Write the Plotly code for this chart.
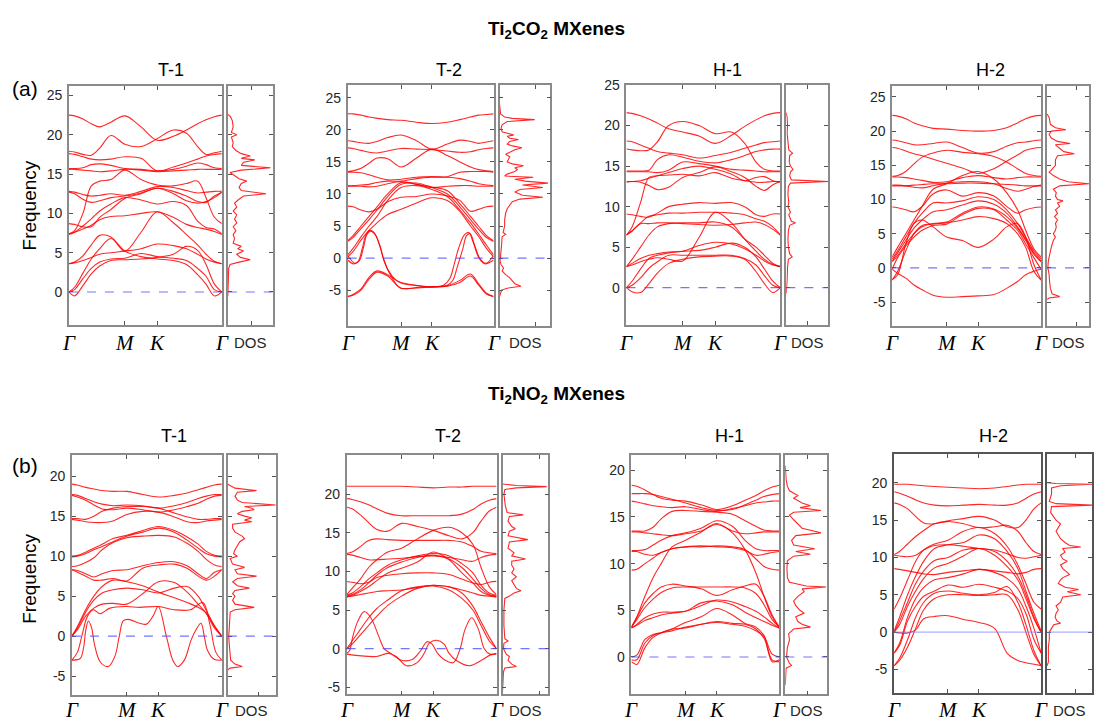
import plotly.graph_objects as go

FIG_W, FIG_H = 1094, 722

# ---------------- k-path ----------------
K_GRID = [0, 0.1, 0.25, 0.4, 0.55, 0.75, 1.0, 1.289, 1.577, 1.866, 2.1, 2.3, 2.45, 2.6, 2.732]
K_END = 2.732
K_TICKS = [0, 1.0, 1.577, 2.732]
K_LABELS = ["Γ", "M", "K", "Γ"]

# ---------------- (a) Ti2CO2 T-1 ----------------
A_T1_BANDS = [
    [22.5, 22.4, 22.0, 21.4, 21.0, 21.6, 22.4, 21.0, 19.3, 19.8, 20.6, 21.4, 21.9, 22.3, 22.5],
    [17.9, 17.8, 17.5, 17.4, 18.3, 19.9, 18.8, 18.5, 19.5, 20.6, 20.2, 18.5, 17.5, 17.7, 17.9],
    [17.6, 17.5, 17.2, 16.9, 16.8, 16.9, 17.2, 17.0, 15.4, 15.9, 16.4, 16.9, 17.3, 17.5, 17.6],
    [15.7, 15.7, 15.8, 16.2, 16.3, 16.1, 15.7, 15.6, 15.4, 15.6, 16.0, 16.4, 16.2, 15.8, 15.7],
    [15.6, 15.6, 15.5, 15.4, 15.3, 15.4, 15.6, 15.5, 15.3, 15.4, 15.5, 15.6, 15.6, 15.6, 15.6],
    [7.4, 7.8, 10.0, 13.5, 14.1, 14.3, 15.5, 14.3, 13.6, 13.5, 13.8, 14.1, 12.0, 9.5, 8.7],
    [12.8, 12.7, 12.4, 12.2, 12.3, 12.5, 12.3, 12.8, 13.4, 13.3, 12.9, 12.6, 12.7, 12.8, 12.8],
    [12.7, 12.5, 11.8, 11.4, 11.6, 12.0, 12.2, 12.6, 13.2, 12.8, 12.2, 11.5, 11.4, 12.2, 12.7],
    [8.7, 8.6, 8.3, 8.3, 9.5, 10.5, 11.9, 12.5, 13.2, 12.5, 11.6, 11.3, 11.5, 12.0, 12.7],
    [7.3, 7.6, 8.4, 9.3, 10.3, 11.2, 12.0, 11.7, 11.2, 11.5, 11.0, 9.0, 8.2, 8.0, 7.4],
    [7.4, 7.6, 8.0, 8.5, 9.2, 9.6, 9.7, 10.0, 10.2, 9.5, 8.6, 8.2, 8.0, 7.7, 7.3],
    [3.6, 3.8, 4.6, 6.0, 7.2, 7.0, 5.2, 7.6, 10.2, 8.8, 7.3, 6.0, 4.8, 3.9, 3.6],
    [3.6, 3.7, 4.0, 4.4, 4.8, 5.0, 5.2, 5.5, 6.1, 5.9, 5.5, 4.8, 4.2, 3.8, 3.6],
    [0, -0.5, 0.8, 2.3, 3.3, 4.0, 4.1, 4.2, 4.4, 4.8, 5.8, 5.3, 3.5, 1.0, 0],
    [0, 0.3, 1.7, 3.0, 3.8, 4.2, 4.3, 4.9, 4.5, 4.3, 4.0, 3.0, 2.0, 0.3, 0],
    [0, 0.6, 2.4, 4.2, 5.5, 6.8, 5.2, 4.5, 4.2, 4.0, 3.5, 2.2, 1.0, -0.5, 0],
]
A_T1_DOS_F = [22.6, 22.3, 21.8, 21.0, 20.3, 20.0, 19.7, 19.0, 18.5, 18.0, 17.6, 17.3, 17.0, 16.8, 16.5,
              16.1, 15.8, 15.5, 15.2, 14.8, 14.4, 14.1, 13.8, 13.3, 12.9, 12.5, 12.2, 11.8, 11.3, 10.8,
              10.3, 9.8, 9.3, 8.8, 8.3, 7.8, 7.3, 6.8, 6.2, 5.8, 5.5, 5.2, 4.8, 4.4, 4.1, 3.8, 3.5, 3.0,
              1.0, -0.5]
A_T1_DOS_V = [0.0, 0.06, 0.1, 0.12, 0.08, 0.2, 0.08, 0.12, 0.1, 0.18, 0.3, 0.5, 0.3, 0.6, 0.35,
              0.3, 0.95, 0.3, 0.05, 0.15, 0.25, 0.42, 0.3, 0.25, 0.3, 0.85, 0.35, 0.25, 0.15, 0.2,
              0.12, 0.2, 0.15, 0.2, 0.12, 0.18, 0.12, 0.15, 0.12, 0.3, 0.22, 0.35, 0.2, 0.28, 0.5, 0.25, 0.05, 0.02,
              0.01, 0.0]

# ---------------- (a) Ti2CO2 T-2 ----------------
A_T2_BANDS = [
    [22.5, 22.5, 22.3, 22.0, 21.8, 21.6, 21.5, 21.2, 21.0, 21.2, 21.6, 22.0, 22.3, 22.4, 22.5],
    [18.3, 18.2, 18.0, 17.9, 18.2, 18.8, 19.2, 18.3, 17.0, 17.8, 18.4, 18.2, 17.9, 18.1, 18.3],
    [17.2, 17.1, 16.8, 16.5, 16.4, 16.7, 17.1, 17.0, 16.9, 16.7, 16.5, 16.6, 16.9, 17.1, 17.2],
    [13.5, 13.6, 14.0, 14.8, 15.6, 15.5, 14.2, 15.6, 17.0, 16.0, 15.0, 14.2, 13.8, 13.6, 13.5],
    [13.4, 13.4, 13.3, 13.0, 12.6, 12.2, 12.3, 12.6, 12.7, 12.7, 13.4, 13.5, 13.5, 13.5, 13.4],
    [11.3, 11.3, 11.4, 11.5, 11.8, 12.0, 12.0, 12.4, 12.6, 12.6, 12.4, 12.0, 11.6, 11.4, 11.3],
    [11.2, 11.2, 11.2, 11.1, 11.2, 11.6, 11.9, 11.5, 11.0, 11.2, 11.3, 11.3, 11.2, 11.2, 11.2],
    [8.1, 8.0, 7.5, 7.2, 7.6, 8.8, 9.5, 9.6, 10.0, 9.7, 9.0, 7.3, 7.6, 8.0, 8.1],
    [2.7, 3.5, 5.0, 6.5, 8.0, 10.0, 11.8, 11.5, 11.1, 10.5, 8.5, 6.5, 5.0, 3.5, 2.7],
    [2.6, 3.2, 4.6, 6.0, 7.5, 9.6, 11.5, 11.7, 11.0, 10.0, 8.0, 6.0, 4.5, 3.2, 2.6],
    [0.5, 1.5, 3.3, 5.0, 6.5, 9.0, 11.0, 11.3, 10.7, 9.6, 7.5, 5.5, 3.8, 2.0, 0.5],
    [0.2, 1.0, 2.8, 4.3, 5.5, 6.8, 7.6, 8.6, 9.4, 9.0, 7.3, 5.0, 3.4, 1.5, 0.2],
    [-6.0, -5.7, -4.8, -3.0, -2.0, -2.6, -3.9, -4.3, -4.5, -4.3, -3.5, -2.5, -4.0, -5.5, -6.0],
    [-6.0, -5.8, -5.0, -3.3, -2.2, -2.8, -4.7, -4.6, -4.5, -4.4, -3.8, -2.8, -4.2, -5.6, -6.0],
]
A_T2_SPECIAL_F = [
    [0, 0.04, 0.07, 0.1, 0.12, 0.148, 0.18, 0.22, 0.245, 0.28, 0.33, 0.366, 0.46, 0.577, 0.66, 0.7,
     0.73, 0.76, 0.8, 0.83, 0.86, 0.9, 0.94, 1.0],
    [0, 0.05, 0.08, 0.11, 0.13, 0.155, 0.19, 0.225, 0.25, 0.29, 0.34, 0.366, 0.577, 0.68, 0.72,
     0.75, 0.79, 0.815, 0.84, 0.87, 0.91, 0.95, 1.0],
]
A_T2_SPECIAL_V = [
    [-0.3, -0.9, -0.6, 1.5, 3.3, 4.3, 4.0, 2.0, 0.0, -2.0, -3.4, -3.8, -4.2, -4.5, -4.2, -3.2,
     -1.0, 1.5, 3.6, 4.0, 2.5, 0.0, -0.9, -0.3],
    [0.4, -0.8, -0.4, 1.8, 3.6, 4.2, 3.6, 1.5, -0.5, -2.5, -4.3, -4.7, -4.5, -4.3, -3.5,
     -1.5, 1.5, 3.5, 3.8, 2.0, -0.2, -0.8, 0.4],
]
A_T2_DOS_F = [24.0, 22.5, 22.0, 21.8, 21.6, 21.3, 20.8, 20.3, 19.7, 19.2, 19.0, 18.7, 18.5, 18.2, 17.8,
              17.5, 17.2, 16.9, 16.5, 16.2, 15.8, 15.4, 15.0, 14.7, 14.4, 14.1, 13.8, 13.5, 13.1, 12.8,
              12.6, 12.3, 12.0, 11.7, 11.4, 11.0, 10.7, 10.3, 9.8, 9.5, 9.2, 8.8, 8.3, 7.7, 7.0, 6.0,
              5.0, 4.0, 3.7, 3.3, 2.0, 1.0, 0.0, -0.5, -1.0, -1.6, -2.0, -2.6, -3.1, -3.6, -4.0, -4.4,
              -4.7, -5.0, -5.7, -6.0]
A_T2_DOS_V = [0.0, 0.02, 0.1, 0.25, 0.69, 0.15, 0.05, 0.03, 0.05, 0.28, 0.15, 0.2, 0.37, 0.2, 0.15,
              0.25, 0.44, 0.3, 0.2, 0.12, 0.2, 0.18, 0.15, 0.25, 0.47, 0.3, 0.35, 0.3, 0.15, 0.1,
              0.66, 0.3, 0.5, 0.95, 0.45, 0.85, 0.4, 0.3, 0.45, 0.85, 0.4, 0.25, 0.2, 0.15, 0.12, 0.1,
              0.1, 0.07, 0.12, 0.05, 0.04, 0.03, 0.02, 0.01, 0.03, 0.08, 0.05, 0.12, 0.2, 0.25, 0.3, 0.42,
              0.15, 0.04, 0.02, 0.0]

# ---------------- (a) Ti2CO2 H-1 ----------------
A_H1_BANDS = [
    [21.6, 21.5, 21.2, 20.8, 20.3, 19.6, 19.2, 18.7, 17.8, 18.8, 19.9, 20.7, 21.2, 21.5, 21.6],
    [17.1, 17.0, 16.9, 17.0, 18.0, 20.0, 20.5, 20.0, 19.0, 19.2, 17.8, 15.5, 14.6, 14.4, 14.4],
    [18.1, 18.0, 17.6, 17.2, 16.8, 16.6, 16.4, 16.0, 16.3, 16.7, 17.2, 17.6, 17.9, 18.0, 18.1],
    [14.4, 14.4, 14.4, 14.5, 15.8, 16.4, 16.1, 15.6, 15.4, 15.8, 16.3, 16.8, 17.0, 17.1, 17.1],
    [14.3, 14.3, 14.3, 14.3, 14.2, 14.5, 15.5, 15.3, 15.0, 14.6, 14.5, 14.4, 14.3, 14.3, 14.3],
    [13.1, 13.1, 13.0, 12.6, 12.1, 12.4, 13.6, 14.2, 14.9, 14.3, 13.6, 12.5, 12.0, 12.7, 13.1],
    [13.0, 13.1, 13.2, 13.5, 13.8, 14.2, 14.7, 15.0, 14.6, 14.0, 13.2, 13.6, 13.7, 13.2, 13.0],
    [6.5, 7.5, 10.5, 13.6, 13.8, 13.9, 14.0, 13.8, 14.2, 13.5, 13.2, 13.0, 13.0, 13.1, 13.1],
    [9.1, 9.0, 8.8, 8.7, 9.2, 10.0, 10.3, 10.5, 10.4, 10.5, 10.0, 9.0, 8.8, 9.1, 9.1],
    [6.5, 7.0, 8.0, 8.8, 9.0, 9.2, 9.2, 9.3, 9.3, 9.2, 9.0, 8.5, 8.2, 7.5, 6.5],
    [6.5, 7.0, 7.9, 7.9, 8.0, 8.0, 7.9, 7.8, 7.7, 7.8, 8.0, 8.1, 7.8, 7.2, 6.5],
    [2.6, 3.5, 5.0, 6.5, 7.5, 7.9, 8.0, 8.0, 8.1, 7.5, 6.0, 5.0, 4.0, 3.0, 2.6],
    [2.6, 3.0, 3.6, 4.0, 4.2, 4.4, 4.5, 5.2, 5.6, 5.4, 4.8, 4.0, 3.3, 2.8, 2.6],
    [2.6, 2.8, 3.2, 3.5, 3.7, 3.5, 3.3, 6.2, 9.3, 8.0, 6.0, 4.5, 3.5, 2.9, 2.6],
    [0, -0.5, -0.6, 0.5, 1.8, 3.0, 3.5, 3.8, 3.9, 3.9, 3.5, 2.0, 0.5, -0.6, 0],
    [0, 0.3, 1.2, 2.4, 3.2, 4.0, 4.0, 4.0, 4.0, 4.0, 3.6, 2.8, 1.5, 0.3, 0],
    [0, 0.8, 2.3, 3.6, 4.0, 4.3, 4.5, 4.6, 5.0, 5.5, 5.0, 3.8, 2.3, 0.8, 0],
]
A_H1_DOS_F = [21.6, 21.0, 20.0, 19.0, 18.0, 17.0, 16.6, 16.3, 15.5, 15.0, 14.6, 14.3, 13.8, 13.3, 13.1,
              12.9, 12.5, 11.5, 10.5, 10.0, 9.3, 9.0, 8.2, 8.0, 7.7, 7.0, 6.0, 5.0, 4.2, 3.8, 3.5, 2.5,
              1.0, 0.0, -0.7]
A_H1_DOS_V = [0.0, 0.02, 0.03, 0.02, 0.04, 0.06, 0.15, 0.08, 0.07, 0.1, 0.16, 0.1, 0.08, 0.12, 1.0,
              0.1, 0.05, 0.04, 0.06, 0.04, 0.1, 0.06, 0.12, 0.22, 0.08, 0.05, 0.04, 0.05, 0.08, 0.14, 0.05, 0.03,
              0.02, 0.01, 0.0]

# ---------------- (a) Ti2CO2 H-2 ----------------
A_H2_BANDS = [
    [22.3, 22.2, 21.8, 21.2, 20.8, 20.4, 20.3, 20.1, 20.0, 20.1, 20.5, 21.2, 21.8, 22.2, 22.3],
    [18.7, 18.6, 18.3, 18.0, 18.0, 18.2, 18.4, 17.6, 16.8, 17.0, 17.8, 18.3, 18.4, 18.6, 18.7],
    [17.6, 17.5, 17.1, 16.7, 16.4, 15.9, 15.3, 14.6, 13.8, 14.5, 15.6, 16.5, 17.2, 17.5, 17.6],
    [13.4, 13.5, 14.1, 15.2, 16.2, 16.8, 17.2, 16.9, 16.7, 16.3, 15.5, 14.5, 13.8, 13.5, 13.4],
    [13.3, 13.3, 13.2, 13.0, 12.8, 12.5, 12.6, 13.2, 13.5, 13.2, 13.0, 13.2, 13.3, 13.3, 13.3],
    [12.1, 12.1, 12.0, 11.8, 11.7, 12.0, 12.4, 12.6, 12.6, 12.3, 11.6, 11.2, 11.5, 11.9, 12.1],
    [12.0, 12.0, 12.0, 12.1, 12.2, 12.3, 12.3, 12.4, 12.4, 12.3, 12.2, 12.1, 12.0, 12.0, 12.0],
    [8.9, 8.8, 8.5, 8.2, 9.0, 10.8, 11.4, 10.5, 11.0, 10.5, 9.0, 8.0, 8.5, 8.8, 8.9],
    [1.6, 3.0, 5.0, 7.0, 9.0, 11.5, 12.3, 13.5, 14.1, 13.0, 11.0, 8.5, 5.5, 2.8, 1.6],
    [1.3, 2.5, 4.5, 6.5, 8.0, 9.5, 9.5, 9.8, 10.4, 10.0, 8.5, 6.5, 4.5, 2.5, 1.3],
    [1.0, 2.2, 4.0, 5.8, 7.0, 8.2, 8.5, 9.2, 9.8, 9.3, 8.0, 6.0, 4.2, 2.2, 1.0],
    [0.9, 1.8, 3.5, 5.0, 6.0, 6.5, 6.7, 8.0, 8.9, 8.6, 7.5, 5.8, 4.0, 2.0, 0.9],
    [-0.2, 1.5, 3.2, 4.5, 5.5, 6.2, 6.4, 7.8, 8.7, 8.5, 7.0, 5.5, 3.5, 1.5, -0.2],
    [-1.7, -1.0, 3.5, 6.5, 7.0, 6.0, 4.5, 4.0, 3.0, 4.2, 6.0, 6.5, 4.5, 0.5, -1.7],
    [-1.8, -0.5, 2.5, 5.0, 6.2, 6.4, 6.6, 7.0, 7.5, 7.2, 6.5, 5.0, 3.0, -0.5, -1.8],
    [-0.2, -0.8, -1.5, -2.5, -3.2, -4.0, -4.3, -4.2, -4.1, -3.9, -3.0, -2.0, -1.0, -0.5, -0.2],
]
A_H2_DOS_F = [22.5, 22.0, 21.0, 20.5, 20.2, 20.0, 19.5, 19.0, 18.5, 18.2, 18.0, 17.5, 17.0, 16.7, 16.4,
              15.8, 15.0, 14.3, 14.0, 13.5, 13.0, 12.6, 12.3, 12.0, 11.5, 11.0, 10.5, 10.0, 9.8, 9.5,
              9.0, 8.5, 8.0, 7.5, 7.0, 6.5, 6.0, 5.5, 5.0, 4.5, 4.0, 3.0, 2.0, 1.0, 0.0, -1.0, -2.0,
              -3.0, -3.8, -4.2, -4.4, -4.6]
A_H2_DOS_V = [0.0, 0.05, 0.08, 0.2, 0.45, 0.1, 0.05, 0.1, 0.25, 0.55, 0.2, 0.3, 0.4, 0.65, 0.25,
              0.2, 0.2, 0.1, 0.05, 0.15, 0.3, 0.5, 1.0, 0.3, 0.15, 0.22, 0.2, 0.25, 0.38, 0.25,
              0.3, 0.2, 0.25, 0.18, 0.25, 0.2, 0.22, 0.2, 0.15, 0.2, 0.15, 0.1, 0.06, 0.03, 0.02, 0.05, 0.06,
              0.08, 0.12, 0.3, 0.05, 0.0]

# ---------------- (b) Ti2NO2 T-1 ----------------
B_T1_BANDS = [
    [19.0, 18.9, 18.6, 18.4, 18.2, 18.1, 18.1, 17.7, 17.4, 17.6, 17.9, 18.3, 18.6, 18.9, 19.0],
    [17.7, 17.6, 17.2, 16.8, 16.5, 16.3, 16.4, 16.3, 16.0, 16.3, 16.7, 17.2, 17.5, 17.7, 17.7],
    [17.6, 17.4, 17.0, 16.4, 15.9, 15.8, 16.0, 15.8, 15.5, 15.8, 16.2, 16.6, 17.1, 17.5, 17.6],
    [14.7, 14.7, 14.6, 15.0, 15.6, 16.0, 16.2, 16.2, 16.0, 15.4, 14.9, 14.6, 14.6, 14.7, 14.7],
    [14.6, 14.5, 14.3, 14.2, 14.2, 14.4, 15.2, 15.6, 15.5, 14.9, 14.3, 14.2, 14.4, 14.5, 14.6],
    [10.0, 10.1, 10.5, 11.0, 11.5, 12.2, 12.6, 13.2, 13.7, 13.2, 12.4, 11.5, 10.6, 10.1, 10.0],
    [9.9, 10.0, 10.3, 10.8, 11.2, 11.8, 12.5, 13.0, 13.5, 13.0, 12.0, 11.0, 10.3, 10.0, 9.9],
    [8.7, 8.8, 9.2, 9.8, 10.8, 11.7, 12.3, 12.5, 12.6, 12.4, 11.6, 10.6, 9.6, 8.9, 8.7],
    [8.3, 8.2, 7.8, 7.4, 7.8, 8.2, 8.3, 8.8, 9.2, 9.3, 8.8, 7.8, 7.2, 8.0, 8.3],
    [8.3, 8.0, 7.5, 7.0, 7.0, 7.2, 6.9, 8.5, 8.9, 9.0, 8.5, 7.5, 7.0, 7.5, 8.3],
    [0, 1.0, 3.0, 4.5, 5.4, 5.8, 6.0, 5.8, 5.4, 6.0, 6.2, 5.0, 3.2, 1.2, 0],
    [0, 0.8, 2.5, 3.5, 4.0, 4.1, 4.0, 5.3, 6.8, 6.7, 5.5, 4.0, 2.8, 1.0, 0],
    [0, 1.2, 3.3, 5.0, 6.2, 7.0, 6.8, 6.3, 5.5, 4.8, 4.2, 3.6, 2.9, 1.3, 0],
]
B_T1_SPECIAL_F = [
    [0, 0.055, 0.077, 0.093, 0.11, 0.132, 0.15, 0.188, 0.243, 0.287, 0.316, 0.342, 0.375, 0.453,
     0.497, 0.541, 0.576, 0.63, 0.673, 0.706, 0.75, 0.795, 0.828, 0.861, 0.883, 0.905, 0.949, 1.0],
    [0, 0.037, 0.066, 0.104, 0.143, 0.188, 0.254, 0.366, 0.45, 0.577, 0.683, 0.79, 0.874, 0.92,
     0.96, 1.0],
]
B_T1_SPECIAL_V = [
    [-3.0, -2.8, -1.5, 0.8, 1.9, 1.0, -1.0, -3.2, -3.8, -2.5, 0.0, 1.9, 2.1, 1.6,
     1.5, 2.5, 3.7, 0.0, -3.0, -3.8, -3.0, -0.5, 0.8, 1.6, 0.0, -1.8, -2.9, -3.0],
    [-3.0, -2.0, 0.0, 2.5, 3.3, 2.8, 3.5, 3.7, 3.6, 3.7, 3.3, 3.3, 4.2, 1.5, -2.0, -3.0],
]
B_T1_DOS_F = [19.0, 18.8, 18.5, 18.2, 18.0, 17.5, 17.0, 16.7, 16.4, 16.2, 16.0, 15.8, 15.6, 15.3, 15.0,
              14.8, 14.5, 14.3, 14.0, 13.5, 13.0, 12.5, 12.2, 11.8, 11.3, 10.8, 10.3, 10.0, 9.7, 9.0,
              8.6, 8.3, 7.8, 7.5, 7.2, 6.8, 6.3, 6.0, 5.7, 5.3, 5.0, 4.5, 4.0, 3.6, 3.3, 3.0, 2.0, 1.0,
              0.0, -1.0, -2.0, -3.0, -3.5, -3.8, -4.0, -4.2]
B_T1_DOS_V = [0.0, 0.05, 0.15, 0.6, 0.2, 0.15, 0.2, 0.3, 1.0, 0.35, 0.5, 0.55, 0.3, 0.2, 0.35,
              0.5, 0.35, 0.5, 0.1, 0.1, 0.15, 0.3, 0.35, 0.25, 0.2, 0.15, 0.12, 0.2, 0.05, 0.1,
              0.35, 0.15, 0.2, 0.6, 0.2, 0.1, 0.2, 0.45, 0.15, 0.1, 0.15, 0.1, 0.15, 0.55, 0.15, 0.05, 0.04, 0.03,
              0.02, 0.03, 0.04, 0.06, 0.15, 0.3, 0.05, 0.0]

# ---------------- (b) Ti2NO2 T-2 ----------------
B_T2_BANDS = [
    [21.0, 21.0, 21.0, 21.0, 21.0, 21.0, 21.0, 20.9, 20.8, 20.9, 20.9, 21.0, 21.0, 21.0, 21.0],
    [19.4, 19.3, 19.0, 18.6, 18.1, 17.5, 17.2, 17.2, 17.2, 17.2, 17.4, 18.0, 18.7, 19.2, 19.4],
    [18.3, 18.1, 17.3, 16.3, 15.4, 15.2, 16.2, 15.8, 15.3, 14.6, 14.2, 15.0, 16.5, 17.8, 18.3],
    [12.3, 12.5, 13.2, 14.0, 14.2, 14.1, 14.0, 14.0, 14.0, 14.0, 13.8, 13.2, 12.6, 12.4, 12.3],
    [12.2, 12.1, 11.8, 11.5, 11.5, 11.6, 11.7, 11.9, 12.0, 11.8, 11.5, 11.3, 11.8, 12.1, 12.2],
    [7.0, 7.8, 9.0, 10.5, 11.5, 12.5, 13.0, 14.2, 15.3, 15.7, 15.0, 13.5, 10.5, 8.0, 7.0],
    [8.7, 8.6, 8.4, 8.6, 9.2, 9.5, 9.7, 9.8, 9.8, 9.6, 9.0, 8.5, 8.3, 8.6, 8.7],
    [6.9, 7.2, 8.0, 9.0, 9.8, 10.8, 11.5, 12.0, 12.3, 12.0, 11.0, 9.8, 8.2, 7.2, 6.9],
    [6.8, 7.0, 7.6, 8.5, 9.5, 10.5, 11.2, 11.8, 12.1, 11.6, 10.5, 9.0, 7.8, 7.0, 6.8],
    [6.7, 6.9, 7.4, 8.0, 8.8, 9.8, 10.4, 11.2, 12.5, 11.5, 9.8, 8.5, 7.4, 6.9, 6.7],
    [6.7, 6.8, 7.0, 7.2, 7.4, 7.5, 7.6, 7.9, 8.2, 8.0, 7.6, 7.2, 6.9, 6.8, 6.7],
    [0, 1.0, 2.5, 4.0, 5.2, 6.3, 7.5, 8.0, 8.2, 8.0, 7.2, 5.5, 3.5, 1.5, 0],
    [0, 0.6, 1.8, 3.0, 4.2, 5.6, 6.8, 7.8, 8.1, 7.6, 6.5, 5.0, 3.0, 1.0, 0],
]
B_T2_SPECIAL_F = [
    [0, 0.018, 0.04, 0.073, 0.117, 0.161, 0.216, 0.25, 0.294, 0.366, 0.437, 0.492, 0.536, 0.57,
     0.603, 0.658, 0.713, 0.757, 0.79, 0.834, 0.879, 0.918, 0.956, 1.0],
    [0, 0.08, 0.2, 0.28, 0.33, 0.4, 0.47, 0.52, 0.55, 0.6, 0.65, 0.68, 0.73, 0.82, 0.9, 0.96, 1.0],
]
B_T2_SPECIAL_V = [
    [-0.6, -0.3, 1.5, 3.5, 4.8, 4.0, 1.5, 0.0, -0.6, -1.5, -1.4, -0.3, 0.9, 0.6,
     -0.5, -1.5, -1.8, 0.0, 2.5, 4.0, 2.5, 0.0, -0.7, -0.6],
    [-0.7, -0.9, -1.0, -0.6, -1.0, -2.2, -1.8, -0.5, 0.7, 1.1, 0.6, -0.5, -1.5, -2.2, -1.5, -0.8, -0.7],
]
B_T2_DOS_F = [21.3, 21.1, 20.95, 20.8, 20.6, 20.0, 19.5, 18.5, 17.6, 17.3, 17.1, 16.5, 15.8, 15.5, 15.2,
              14.6, 14.1, 13.8, 13.0, 12.4, 12.0, 11.6, 11.3, 10.8, 10.3, 9.8, 9.3, 8.8, 8.3, 7.8, 7.5,
              7.2, 6.8, 6.5, 5.0, 3.0, 1.3, 1.0, 0.7, 0.0, -0.7, -1.0, -1.5, -2.0, -2.3, -2.5, -3.0, -5.5]
B_T2_DOS_V = [0.0, 0.3, 0.96, 0.3, 0.05, 0.03, 0.04, 0.06, 0.1, 0.45, 0.15, 0.12, 0.2, 0.28, 0.15,
              0.12, 0.55, 0.15, 0.12, 0.25, 0.2, 0.5, 0.2, 0.2, 0.25, 0.2, 0.3, 0.2, 0.25, 0.3, 0.4,
              0.25, 0.15, 0.05, 0.03, 0.03, 0.05, 0.12, 0.03, 0.02, 0.08, 0.15, 0.12, 0.2, 0.3, 0.05, 0.02, 0.0]

# ---------------- (b) Ti2NO2 H-1 ----------------
B_H1_BANDS = [
    [18.4, 18.3, 17.9, 17.4, 17.0, 16.8, 16.7, 16.3, 15.8, 16.2, 16.8, 17.3, 17.8, 18.2, 18.4],
    [17.5, 17.5, 17.5, 17.4, 17.2, 16.9, 16.5, 16.0, 15.7, 15.8, 16.3, 16.8, 17.2, 17.4, 17.5],
    [16.7, 16.6, 16.4, 16.2, 16.1, 16.0, 16.1, 15.8, 15.6, 15.9, 16.2, 16.5, 16.6, 16.7, 16.7],
    [13.5, 13.5, 13.5, 13.9, 14.8, 15.6, 15.7, 15.6, 15.5, 15.3, 14.6, 14.0, 13.6, 13.5, 13.5],
    [13.4, 13.4, 13.3, 13.2, 13.1, 13.0, 13.2, 13.5, 14.2, 13.5, 13.2, 13.3, 13.4, 13.4, 13.4],
    [11.4, 11.4, 11.5, 12.0, 12.5, 13.0, 13.3, 13.8, 14.6, 14.0, 12.5, 11.6, 11.4, 11.4, 11.4],
    [11.3, 11.3, 11.0, 10.9, 11.2, 11.6, 11.8, 11.9, 11.8, 11.7, 11.4, 10.9, 11.0, 11.2, 11.3],
    [9.3, 9.4, 10.0, 10.6, 11.2, 11.6, 11.8, 11.8, 11.9, 11.8, 11.5, 10.5, 9.7, 9.4, 9.3],
    [3.2, 4.3, 6.5, 8.5, 10.0, 11.8, 12.5, 13.4, 14.3, 13.3, 11.5, 9.0, 6.5, 4.3, 3.2],
    [3.2, 4.2, 5.8, 6.8, 7.5, 7.8, 7.6, 7.3, 6.6, 7.2, 7.6, 7.8, 6.5, 4.5, 3.2],
    [3.2, 4.0, 5.3, 6.2, 6.9, 7.4, 7.5, 7.5, 7.5, 7.5, 7.4, 6.8, 5.6, 4.0, 3.2],
    [3.1, 3.5, 4.2, 4.6, 4.8, 4.8, 4.9, 5.5, 6.1, 5.9, 5.4, 4.9, 4.3, 3.6, 3.1],
    [3.1, 3.4, 3.9, 4.2, 4.5, 4.7, 4.9, 5.8, 6.0, 5.6, 4.8, 4.2, 3.8, 3.4, 3.1],
    [-0.5, -0.8, 1.0, 2.1, 2.6, 3.0, 3.1, 3.5, 3.8, 3.6, 3.5, 3.0, 2.0, -0.3, -0.5],
    [-0.3, -0.3, 1.5, 2.3, 2.6, 3.0, 3.7, 4.3, 5.2, 4.5, 3.6, 3.2, 2.3, -0.5, -0.3],
    [0, 0.2, 1.9, 2.4, 2.6, 2.8, 3.2, 3.5, 3.7, 3.5, 3.3, 2.8, 2.2, 0.3, 0],
]
B_H1_DOS_F = [20.5, 19.0, 18.3, 17.8, 17.3, 17.0, 16.5, 16.2, 16.0, 15.7, 15.5, 15.2, 14.7, 14.3, 13.8,
              13.3, 13.0, 12.5, 12.0, 11.6, 11.3, 11.0, 10.8, 10.3, 9.5, 8.5, 8.0, 7.6, 7.5, 7.3, 7.0,
              6.5, 6.0, 5.5, 5.0, 4.7, 4.3, 3.8, 3.5, 3.2, 3.0, 2.5, 1.8, 1.0, 0.0, -0.7, -0.9, -1.2, -3.0]
B_H1_DOS_V = [0.0, 0.02, 0.05, 0.1, 0.3, 0.2, 0.4, 0.6, 0.35, 0.85, 0.2, 0.1, 0.2, 0.3, 0.4,
              0.85, 0.25, 0.15, 0.2, 0.7, 0.25, 0.6, 0.2, 0.05, 0.04, 0.05, 0.1, 0.5, 0.97, 0.4, 0.45,
              0.3, 0.2, 0.25, 0.35, 0.45, 0.25, 0.3, 0.4, 0.6, 0.2, 0.08, 0.1, 0.05, 0.03, 0.1, 0.15, 0.02, 0.0]

# ---------------- (b) Ti2NO2 H-2 ----------------
B_H2_BANDS = [
    [19.8, 19.8, 19.8, 19.7, 19.6, 19.5, 19.4, 19.3, 19.2, 19.3, 19.5, 19.7, 19.8, 19.8, 19.8],
    [18.8, 18.6, 18.2, 17.7, 17.3, 17.0, 16.9, 17.0, 17.1, 17.0, 17.0, 17.3, 17.9, 18.5, 18.8],
    [17.3, 17.1, 16.5, 15.5, 14.6, 14.5, 14.9, 15.2, 15.5, 15.0, 14.1, 14.0, 15.0, 16.5, 17.3],
    [10.4, 10.8, 11.8, 12.8, 13.6, 14.5, 14.8, 14.5, 14.0, 14.1, 14.3, 13.5, 12.0, 10.8, 10.4],
    [10.3, 10.2, 10.1, 10.3, 11.0, 11.6, 11.7, 11.5, 11.2, 11.0, 10.5, 10.0, 9.9, 10.1, 10.3],
    [8.5, 8.4, 8.2, 8.0, 7.8, 7.7, 8.0, 8.2, 8.4, 8.2, 8.0, 7.8, 8.0, 8.4, 8.5],
    [3.1, 4.5, 7.0, 9.5, 11.0, 11.8, 12.3, 13.5, 14.0, 13.2, 11.5, 9.0, 6.5, 4.0, 3.1],
    [0.2, 2.0, 5.0, 7.5, 9.5, 11.2, 11.7, 12.0, 13.0, 12.5, 10.8, 8.5, 5.5, 2.5, 0.2],
    [0, 1.5, 4.0, 6.5, 8.2, 9.6, 10.0, 11.0, 11.2, 10.8, 9.5, 7.5, 5.0, 2.0, 0],
    [0, 1.0, 3.5, 5.5, 7.2, 8.6, 9.2, 10.2, 11.2, 10.3, 8.8, 7.0, 4.5, 1.8, 0],
    [-2.8, -1.5, 2.0, 4.5, 6.0, 7.0, 7.3, 7.8, 8.4, 8.0, 7.2, 5.8, 3.5, 0.5, -2.8],
    [-2.8, -1.8, 1.5, 3.5, 4.8, 5.5, 6.3, 6.0, 6.4, 6.0, 5.5, 4.5, 2.5, -1.0, -2.8],
    [-4.5, -3.5, -1.0, 2.0, 4.0, 5.2, 5.5, 5.2, 5.0, 5.3, 6.1, 4.0, 1.0, -2.5, -4.5],
    [-4.5, -3.8, -2.0, 0.5, 3.0, 4.5, 5.0, 5.0, 4.9, 5.0, 5.0, 3.0, 0.0, -3.0, -4.5],
    [0.0, -0.1, -0.1, 0.3, 1.8, 2.1, 2.2, 1.7, 1.3, 0.5, -2.8, -3.8, -4.1, -4.3, -4.5],
]
B_H2_DOS_F = [20.0, 19.9, 19.8, 19.6, 19.3, 18.5, 17.5, 17.2, 17.0, 16.8, 16.0, 15.5, 15.0, 14.5, 14.0,
              13.5, 13.0, 12.5, 12.0, 11.6, 11.4, 11.2, 10.7, 10.3, 9.8, 9.5, 9.0, 8.5, 8.0, 7.7, 7.3,
              7.0, 6.5, 6.0, 5.7, 5.4, 5.0, 4.7, 4.0, 3.5, 3.0, 2.5, 2.0, 1.5, 1.2, 1.0, 0.5, 0.0,
              -1.0, -2.0, -3.0, -4.0, -4.5]
B_H2_DOS_V = [0.0, 0.2, 1.0, 0.3, 0.1, 0.1, 0.05, 0.2, 1.0, 0.1, 0.08, 0.15, 0.2, 0.3, 0.25,
              0.2, 0.25, 0.3, 0.4, 0.5, 0.75, 0.35, 0.4, 0.3, 0.35, 0.45, 0.3, 0.35, 0.45, 0.5, 0.35,
              0.3, 0.25, 0.4, 0.7, 0.45, 0.75, 0.35, 0.3, 0.2, 0.25, 0.2, 0.18, 0.22, 0.3, 0.15, 0.1, 0.05,
              0.05, 0.03, 0.03, 0.03, 0.0]

# ---------------- layout of panels (pixel boxes) ----------------
# title, bands, special_f, special_v, dos_f, dos_v, yrange, ytick labels,
# band box (l, r, t, b), dos box (l, r), dos tick, zero-line dashed
PANELS = [
    ("T-1", A_T1_BANDS, [], [], A_T1_DOS_F, A_T1_DOS_V, [-4.2, 26.2], [0, 5, 10, 15, 20, 25], (69, 222, 79, 321), (228, 273), 0.52, True),
    ("T-2", A_T2_BANDS, A_T2_SPECIAL_F, A_T2_SPECIAL_V, A_T2_DOS_F, A_T2_DOS_V, [-10.6, 27.0], [-5, 0, 5, 10, 15, 20, 25], (348, 494, 78, 322), (500, 551), 0.71, True),
    ("H-1", A_H1_BANDS, [], [], A_H1_DOS_F, A_H1_DOS_V, [-4.6, 25.0], [0, 5, 10, 15, 20, 25], (627, 781, 78, 321), (787, 829), 0.5, True),
    ("H-2", A_H2_BANDS, [], [], A_H2_DOS_F, A_H2_DOS_V, [-8.5, 26.6], [-5, 0, 5, 10, 15, 20, 25], (893, 1042, 79, 322), (1048, 1090), 0.7, True),
    ("T-1", B_T1_BANDS, B_T1_SPECIAL_F, B_T1_SPECIAL_V, B_T1_DOS_F, B_T1_DOS_V, [-7.4, 22.6], [-5, 0, 5, 10, 15, 20], (72, 222, 453, 696), (228, 276), 0.63, True),
    ("T-2", B_T2_BANDS, B_T2_SPECIAL_F, B_T2_SPECIAL_V, B_T2_DOS_F, B_T2_DOS_V, [-5.9, 25.0], [-5, 0, 5, 10, 15, 20], (347, 497, 453, 695), (503, 549), 0.81, True),
    ("H-1", B_H1_BANDS, [], [], B_H1_DOS_F, B_H1_DOS_V, [-4.0, 21.6], [0, 5, 10, 15, 20], (632, 780, 453, 695), (786, 828), 0.53, True),
    ("H-2", B_H2_BANDS, [], [], B_H2_DOS_F, B_H2_DOS_V, [-8.2, 23.8], [-5, 0, 5, 10, 15, 20], (895, 1042, 452, 694), (1048, 1093), 0.63, False),
]

RED = "rgba(255,0,0,0.85)"
TICKFONT = dict(family="Arial, Liberation Sans, sans-serif", size=14, color="#262626")
KFONT = dict(family="Liberation Serif, Times New Roman, serif", size=21, color="black")


def px_x(v):
    return v / FIG_W


def px_y(v):
    return 1 - v / FIG_H


fig = go.Figure()
shapes = []
annotations = []
layout_axes = {}

for i, (title, bands, sp_f, sp_v, dos_f, dos_v, yr, yt, bbox, dbox, dtick, dashed) in enumerate(PANELS):
    bi, di = 2 * i + 1, 2 * i + 2
    xb, yb = f"x{bi}", f"y{bi}"
    xd, yd = f"x{di}", f"y{di}"
    for band in bands:
        fig.add_trace(go.Scatter(x=K_GRID, y=band, xaxis=xb, yaxis=yb, mode="lines",
                                 line=dict(color=RED, width=1.1, shape="spline", smoothing=1.0),
                                 hoverinfo="skip", showlegend=False))
    for fr, vals in zip(sp_f, sp_v):
        fig.add_trace(go.Scatter(x=[f * K_END for f in fr], y=vals, xaxis=xb, yaxis=yb, mode="lines",
                                 line=dict(color=RED, width=1.1, shape="spline", smoothing=1.0),
                                 hoverinfo="skip", showlegend=False))
    fig.add_trace(go.Scatter(x=dos_v, y=dos_f, xaxis=xd, yaxis=yd, mode="lines",
                             line=dict(color=RED, width=1.1),
                             hoverinfo="skip", showlegend=False))

    l, r, t, b = bbox
    dl, dr = dbox
    ydom = [px_y(b), px_y(t)]
    frame = "#555555" if i == 7 else "#8a8a8a"
    fwidth = 2 if i == 7 else 1.5
    common = dict(showgrid=False, zeroline=False, showline=True, linecolor=frame, linewidth=fwidth,
                  mirror="ticks", ticks="inside", ticklen=4, tickcolor="#555", tickwidth=1)
    sfx_b = "" if bi == 1 else str(bi)
    layout_axes[f"xaxis{sfx_b}"] = dict(common, domain=[px_x(l), px_x(r)], anchor=yb, range=[0, K_END],
                                        tickmode="array", tickvals=K_TICKS, showticklabels=False)
    layout_axes[f"yaxis{sfx_b}"] = dict(common, domain=ydom, anchor=xb, range=yr, tickmode="array",
                                        tickvals=yt, ticktext=[str(v) for v in yt],
                                        tickfont=TICKFONT, ticklabelstandoff=2)
    layout_axes[f"xaxis{di}"] = dict(common, domain=[px_x(dl), px_x(dr)], anchor=yd, range=[0, 1.0],
                                     tickmode="array", tickvals=[dtick], showticklabels=False)
    layout_axes[f"yaxis{di}"] = dict(common, domain=ydom, anchor=xd, range=yr, tickmode="array",
                                     tickvals=yt, showticklabels=False)

    zl = dict(color="rgba(70,70,255,0.75)", width=1.2, dash="dash") if dashed else \
        dict(color="rgba(120,120,255,0.6)", width=1.2)
    shapes.append(dict(type="line", xref=xb, yref=yb, x0=0, x1=K_END, y0=0, y1=0, line=zl, layer="above"))
    shapes.append(dict(type="line", xref=xd, yref=yd, x0=0, x1=1.0, y0=0, y1=0, line=zl, layer="above"))

    row_top = 63 if i < 4 else 433
    annotations.append(dict(text=title, x=px_x((l + dr) / 2), y=px_y(row_top), xref="paper", yref="paper",
                            showarrow=False, xanchor="center", yanchor="middle",
                            font=dict(family="Arial, Liberation Sans, sans-serif", size=18, color="black")))
    lbl_y = 339 if i < 4 else 711
    for kv, kl in zip(K_TICKS, K_LABELS):
        annotations.append(dict(text=f"<i>{kl}</i>", x=kv, xref=xb, y=px_y(lbl_y), yref="paper",
                                showarrow=False, xanchor="center", yanchor="middle", font=KFONT))
    annotations.append(dict(text="DOS", x=px_x((dl + dr) / 2), y=px_y(lbl_y), xref="paper", yref="paper",
                            showarrow=False, xanchor="center", yanchor="middle",
                            font=dict(family="Arial, Liberation Sans, sans-serif", size=15, color="#262626")))

for txt, yy in [("<b>Ti<sub>2</sub>CO<sub>2</sub> MXenes</b>", 22), ("<b>Ti<sub>2</sub>NO<sub>2</sub> MXenes</b>", 392)]:
    annotations.append(dict(text=txt, x=px_x(557), y=px_y(yy), xref="paper", yref="paper", showarrow=False,
                            xanchor="center", yanchor="middle",
                            font=dict(family="Arial, Liberation Sans, sans-serif", size=19, color="black")))
for txt, yy in [("(a)", 82), ("(b)", 463)]:
    annotations.append(dict(text=txt, x=px_x(25), y=px_y(yy), xref="paper", yref="paper", showarrow=False,
                            xanchor="center", yanchor="middle",
                            font=dict(family="Arial, Liberation Sans, sans-serif", size=21, color="black")))
for yy in [200, 578]:
    annotations.append(dict(text="Frequency", x=px_x(30), y=px_y(yy), xref="paper", yref="paper", showarrow=False,
                            xanchor="center", yanchor="middle", textangle=-90,
                            font=dict(family="Arial, Liberation Sans, sans-serif", size=19, color="black")))

fig.update_layout(width=FIG_W, height=FIG_H, autosize=False, margin=dict(l=0, r=0, t=0, b=0, pad=0),
                  paper_bgcolor="white", plot_bgcolor="white", showlegend=False,
                  shapes=shapes, annotations=annotations, **layout_axes)

fig.write_html("out.html")
